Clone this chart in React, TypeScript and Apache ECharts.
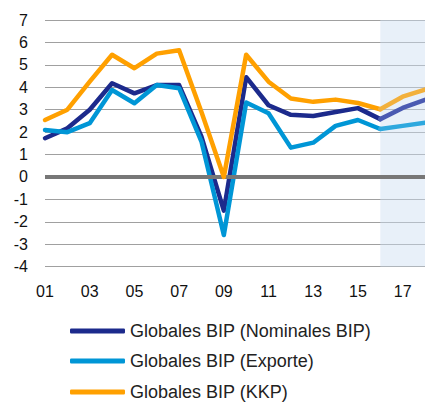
import React, { useEffect, useRef } from "react";
import * as echarts from "echarts";

const years = ["01","02","03","04","05","06","07","08","09","10","11","12","13","14","15","16","17","18"];
const yTicks = [-4, 7];
const nominal = [1.73, 2.17, 3.0, 4.18, 3.73, 4.1, 4.1, 1.8, -1.5, 4.45, 3.2, 2.77, 2.72, 2.9, 3.07, 2.58, 3.08, 3.44];
const exporte = [2.1, 2.0, 2.4, 3.88, 3.29, 4.1, 3.96, 1.58, -2.59, 3.32, 2.84, 1.31, 1.53, 2.28, 2.54, 2.14, 2.28, 2.42];
const kkp = [2.54, 3.0, 4.25, 5.45, 4.85, 5.5, 5.65, 2.9, 0.0, 5.45, 4.25, 3.5, 3.35, 3.45, 3.3, 3.02, 3.58, 3.9];
const forecastStart = "16";
const names = ["Globales BIP (Nominales BIP)", "Globales BIP (Exporte)", "Globales BIP (KKP)"];
const colors = ["#1c2a8c", "#0096d6", "#ffa000"];
const forecastColors = ["#4a5ab2", "#2ea8de", "#f2b03c"];

export default function App() {
  const ref = useRef<HTMLDivElement>(null);
  useEffect(() => {
    document.body.style.margin = "0";
    const chart = echarts.init(ref.current!, null, { renderer: "svg" });
    const fi = years.indexOf(forecastStart);
    const all = [nominal, exporte, kkp];
    const mainSeries = all.map((d, i) => ({
      name: names[i],
      type: "line",
      data: d.map((v, j) => (j <= fi ? v : null)),
      symbol: "none",
      color: colors[i],
      itemStyle: { color: colors[i] },
      lineStyle: { width: 4.5, color: colors[i], join: "round", cap: "round" },
      z: 3 + i,
    }));
    const fcSeries = all.map((d, i) => ({
      name: names[i] + " P",
      type: "line",
      data: d.map((v, j) => (j >= fi ? v : null)),
      symbol: "none",
      color: forecastColors[i],
      lineStyle: { width: 4.5, color: forecastColors[i], join: "round", cap: "round" },
      z: 3 + i,
    }));
    const legendTops = [321, 351, 382];
    chart.setOption({
      animation: false,
      textStyle: { fontFamily: "Liberation Sans, Arial, sans-serif" },
      grid: { left: 45, right: -2.5, top: 20, bottom: 136.3 },
      legend: names.map((n, i) => ({
        data: [n],
        orient: "horizontal",
        left: 70,
        top: legendTops[i],
        padding: 0,
        itemWidth: 55,
        itemHeight: 5,
        icon: "roundRect",
        textStyle: { fontSize: 18, color: "#222", lineHeight: 20, fontFamily: "Liberation Sans, Arial, sans-serif" },
      })),
      xAxis: {
        type: "category",
        data: years,
        boundaryGap: false,
        axisLine: { show: false },
        axisTick: { show: false },
        axisLabel: { interval: 1, fontSize: 16, color: "#111", margin: 17 },
      },
      yAxis: {
        type: "value",
        min: yTicks[0],
        max: yTicks[1],
        interval: 1,
        axisLine: { show: false },
        axisTick: { show: false },
        axisLabel: { fontSize: 16, color: "#111", margin: 17 },
        splitLine: { lineStyle: { color: "#a0a0a0", width: 1.2 } },
      },
      series: [
        {
          name: "bg",
          type: "line",
          data: years.map(() => null),
          symbol: "none",
          z: 1,
          markArea: {
            silent: true,
            itemStyle: { color: "rgba(205,222,242,0.45)" },
            data: [[{ xAxis: forecastStart }, { xAxis: years[years.length - 1] }]],
          },
          markLine: {
            silent: true,
            symbol: "none",
            label: { show: false },
            lineStyle: { color: "#777777", width: 4, type: "solid" },
            data: [{ yAxis: 0 }],
          },
        },
        ...mainSeries,
        ...fcSeries,
      ],
    });
    return () => chart.dispose();
  }, []);
  return <div ref={ref} style={{ width: 425, height: 403 }} />;
}
